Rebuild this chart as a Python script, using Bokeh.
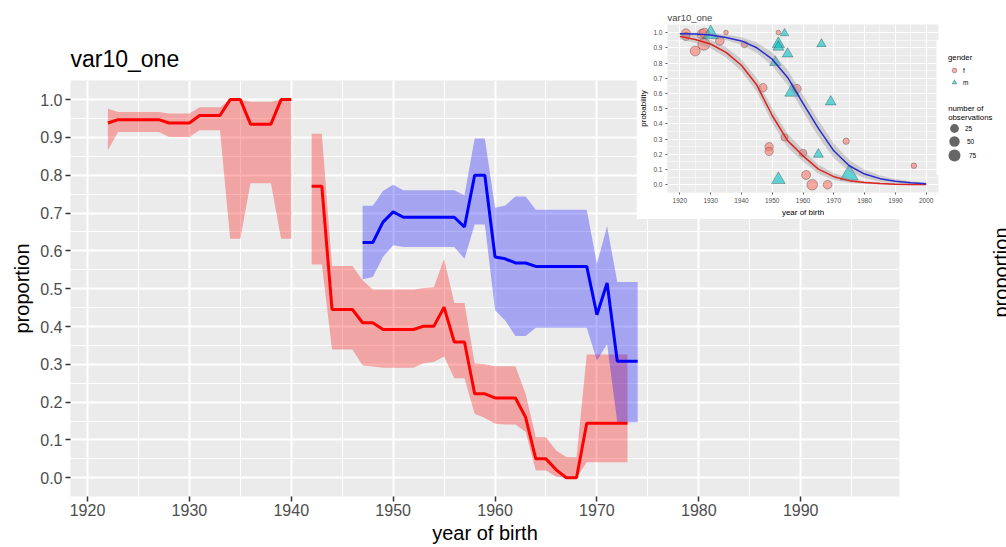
import numpy as np
from bokeh.plotting import figure
from bokeh.models import Range1d, FixedTicker, PrintfTickFormatter, Label, Legend, LegendItem
from bokeh.embed import file_html
from bokeh.resources import INLINE

FONT = "Liberation Sans"
NAN = float("nan")

# ---------------- main chart data ----------------
year_f = list(range(1922, 1974))
prop_f = [0.938, 0.947, 0.947, 0.947, 0.947, 0.947, 0.938, 0.938, 0.938, 0.958, 0.958, 0.958,
          1.000, 1.000, 0.935, 0.935, 0.935, 1.000, 1.000, NAN,
          0.771, 0.771, 0.445, 0.445, 0.445, 0.410, 0.410, 0.392, 0.392, 0.392, 0.392, 0.401,
          0.401, 0.451, 0.359, 0.359, 0.222, 0.222, 0.211, 0.211, 0.211, 0.160, 0.050, 0.050,
          0.021, 0.000, 0.000, 0.144, 0.144, 0.144, 0.144, 0.144]
upper_f = [0.976, 0.967, 0.967, 0.967, 0.967, 0.967, 0.963, 0.963, 0.963, 0.980, 0.980, 0.980,
           1.000, 1.000, 0.994, 0.994, 0.994, 1.000, 1.000, NAN,
           0.910, 0.910, 0.560, 0.560, 0.560, 0.522, 0.498, 0.498, 0.498, 0.498, 0.498, 0.502,
           0.504, 0.579, 0.462, 0.462, 0.303, 0.300, 0.295, 0.295, 0.295, 0.222, 0.107, 0.107,
           0.072, 0.055, 0.054, 0.326, 0.326, 0.326, 0.326, 0.326]
lower_f = [0.866, 0.914, 0.914, 0.914, 0.914, 0.914, 0.901, 0.901, 0.901, 0.919, 0.919, 0.919,
           0.632, 0.632, 0.779, 0.779, 0.779, 0.632, 0.632, NAN,
           0.564, 0.564, 0.339, 0.339, 0.339, 0.297, 0.294, 0.291, 0.291, 0.291, 0.291, 0.303,
           0.306, 0.321, 0.263, 0.263, 0.169, 0.158, 0.143, 0.141, 0.141, 0.121, 0.019, 0.019,
           0.003, 0.000, 0.000, 0.041, 0.041, 0.041, 0.041, 0.041]

year_m = list(range(1947, 1975))
prop_m = [0.622, 0.622, 0.676, 0.703, 0.689, 0.689, 0.689, 0.689, 0.689, 0.689, 0.663, 0.800,
          0.800, 0.584, 0.579, 0.568, 0.568, 0.559, 0.559, 0.559, 0.559, 0.559, 0.559, 0.431,
          0.515, 0.308, 0.308, 0.308]
upper_m = [0.719, 0.719, 0.758, 0.775, 0.760, 0.760, 0.760, 0.760, 0.760, 0.760, 0.747, 0.897,
           0.897, 0.714, 0.720, 0.744, 0.744, 0.709, 0.709, 0.709, 0.709, 0.709, 0.709, 0.566,
           0.665, 0.518, 0.518, 0.518]
lower_m = [0.525, 0.531, 0.584, 0.615, 0.610, 0.610, 0.610, 0.610, 0.610, 0.610, 0.579, 0.670,
           0.670, 0.443, 0.416, 0.375, 0.375, 0.397, 0.397, 0.397, 0.397, 0.397, 0.397, 0.310,
           0.353, 0.147, 0.147, 0.147]

x_major = [1920, 1930, 1940, 1950, 1960, 1970, 1980, 1990]
x_minor = [1915, 1925, 1935, 1945, 1955, 1965, 1975, 1985, 1995]
y_major = [0.0, 0.1, 0.2, 0.3, 0.4, 0.5, 0.6, 0.7, 0.8, 0.9, 1.0]
y_minor = [0.05, 0.15, 0.25, 0.35, 0.45, 0.55, 0.65, 0.75, 0.85, 0.95]

# ---------------- inset data ----------------
f_year = [1922, 1922, 1925, 1927.2, 1928, 1927.8, 1933, 1935, 1941, 1947, 1949, 1949, 1952,
          1954, 1958, 1960, 1961, 1963, 1968, 1974, 1996]
f_prob = [0.996, 0.974, 0.879, 0.989, 0.996, 0.923, 0.945, 1.0, 0.923, 0.638, 0.25, 0.219,
          1.0, 0.311, 0.631, 0.208, 0.064, 0.0, 0.0, 0.286, 0.125]
f_n = [34, 27, 48, 48, 48, 75, 34, 1, 15, 30, 30, 30, 1, 20, 34, 24, 37, 57, 34, 12, 7]

m_year = [1930, 1954, 1952, 1952, 1955, 1966, 1951, 1956.5, 1969, 1965, 1952, 1975]
m_prob = [0.99, 0.995, 0.925, 0.905, 0.86, 0.925, 0.805, 0.61, 0.545, 0.2, 0.033, 0.065]
m_n = [55, 7, 29, 20, 19, 11, 22, 48, 19, 15, 37, 76]

curve_year = [1920, 1925, 1930, 1935, 1940, 1945, 1950, 1955, 1960, 1965, 1970, 1975, 1980,
              1985, 1990, 1995, 2000]
fit_f = [0.975, 0.955, 0.925, 0.870, 0.785, 0.655, 0.455, 0.290, 0.190, 0.103, 0.053, 0.027,
         0.015, 0.008, 0.004, 0.002, 0.001]
fit_f_lo = [0.958, 0.932, 0.897, 0.836, 0.745, 0.610, 0.408, 0.245, 0.152, 0.073, 0.031, 0.012,
            0.005, 0.002, 0.000, 0.000, 0.000]
fit_f_hi = [0.992, 0.978, 0.953, 0.904, 0.825, 0.700, 0.502, 0.335, 0.228, 0.133, 0.075, 0.042,
            0.025, 0.015, 0.009, 0.006, 0.004]
fit_m = [0.993, 0.990, 0.984, 0.968, 0.945, 0.900, 0.825, 0.705, 0.535, 0.370, 0.223, 0.125,
         0.070, 0.040, 0.023, 0.013, 0.007]
fit_m_lo = [0.983, 0.978, 0.969, 0.949, 0.920, 0.866, 0.781, 0.655, 0.481, 0.316, 0.175, 0.087,
            0.042, 0.020, 0.009, 0.004, 0.001]
fit_m_hi = [1.000, 1.000, 0.998, 0.987, 0.970, 0.934, 0.869, 0.755, 0.589, 0.424, 0.271, 0.163,
            0.098, 0.060, 0.037, 0.023, 0.014]

inset_x_major = [1920, 1930, 1940, 1950, 1960, 1970, 1980, 1990, 2000]
inset_x_minor = [1925, 1935, 1945, 1955, 1965, 1975, 1985, 1995]
gender_labels = ["f", "m"]
size_keys = [25, 50, 75]


def diam(n):
    return np.sqrt(20 + 1.65 * np.asarray(n, dtype=float))


def runs(x, *cols):
    x = np.asarray(x, dtype=float)
    cols = [np.asarray(c, dtype=float) for c in cols]
    idx = np.flatnonzero(~np.isnan(cols[0]))
    breaks = np.flatnonzero(np.diff(idx) > 1) + 1
    for seg in np.split(idx, breaks):
        yield [x[seg]] + [c[seg] for c in cols]


def style_axes(fig, tick_size, label_size, tick_len, tick_w, std, lab_std):
    for ax in (fig.xaxis, fig.yaxis):
        ax.axis_line_color = None
        ax.major_tick_line_color = "#333333"
        ax.major_tick_line_width = tick_w
        ax.major_tick_out = tick_len
        ax.major_tick_in = 0
        ax.minor_tick_line_color = None
        ax.major_label_text_color = "#4D4D4D"
        ax.major_label_text_font = FONT
        ax.major_label_text_font_size = tick_size
        ax.major_label_standoff = std
        ax.axis_label_text_font = FONT
        ax.axis_label_text_font_size = label_size
        ax.axis_label_text_font_style = "normal"
        ax.axis_label_text_color = "black"
        ax.axis_label_standoff = lab_std


def blank(fig):
    fig.background_fill_color = "white"
    fig.border_fill_color = "white"
    fig.outline_line_color = None
    fig.grid.grid_line_color = None


# ---------------- main figure ----------------
p = figure(frame_width=829, frame_height=416, output_backend="svg", toolbar_location=None,
           x_range=Range1d(1918.33, 1999.7), y_range=Range1d(-0.0495, 1.0505),
           min_border_left=70, min_border_right=107, min_border_top=80, min_border_bottom=51,
           x_axis_label="year of birth", y_axis_label="proportion", title="var10_one")
p.styles = {"position": "absolute", "left": "0px", "top": "0px"}
p.background_fill_color = "#EBEBEB"
p.border_fill_color = "white"
p.outline_line_color = None
p.title.text_font = FONT
p.title.text_font_size = "23px"
p.title.text_font_style = "normal"
p.title.text_color = "black"
p.title.standoff = 17
p.xaxis.ticker = FixedTicker(ticks=x_major, minor_ticks=x_minor)
p.yaxis.ticker = FixedTicker(ticks=y_major, minor_ticks=y_minor)
p.yaxis.formatter = PrintfTickFormatter(format="%.1f")
style_axes(p, "16px", "20px", 5, 1.5, 3, 4)
p.xaxis.major_label_standoff = 2
p.xaxis.axis_label_standoff = 3
for g in (p.xgrid, p.ygrid):
    g.grid_line_color = "white"
    g.grid_line_width = 2
    g.minor_grid_line_color = "white"
    g.minor_grid_line_width = 1

for xs, lo, hi in runs(year_f, lower_f, upper_f):
    p.varea(x=xs, y1=lo, y2=hi, fill_color="red", fill_alpha=0.3)
for xs, lo, hi in runs(year_m, lower_m, upper_m):
    p.varea(x=xs, y1=lo, y2=hi, fill_color="blue", fill_alpha=0.3)
p.line(year_f, prop_f, line_color="red", line_width=3)
p.line(year_m, prop_m, line_color="blue", line_width=3)

# ---------------- y-axis title of the neighbouring, cut-off chart ----------------
pr = figure(frame_width=20, frame_height=100, output_backend="svg", toolbar_location=None,
            x_range=Range1d(0, 1), y_range=Range1d(0, 1), min_border=0,
            x_axis_location=None, y_axis_location=None)
pr.styles = {"position": "absolute", "left": "986px", "top": "222px"}
blank(pr)
pr.add_layout(Label(x=14, y=50, x_units="screen", y_units="screen", text="proportion",
                    angle=np.pi / 2, text_align="center", text_baseline="middle",
                    text_font=FONT, text_font_size="20px", text_color="black"))

# ---------------- inset figure ----------------
ins = figure(frame_width=271, frame_height=168, output_backend="svg", toolbar_location=None,
             x_range=Range1d(1916, 2004), y_range=Range1d(-0.051, 1.053),
             min_border_left=28, min_border_right=71, min_border_top=24, min_border_bottom=23,
             x_axis_label="year of birth", y_axis_label="probability", title="var10_one")
ins.styles = {"position": "absolute", "left": "636px", "top": "0px"}
ins.background_fill_color = "#EBEBEB"
ins.border_fill_color = "white"
ins.outline_line_color = None
ins.title.text_font = FONT
ins.title.text_font_size = "9.5px"
ins.title.text_font_style = "normal"
ins.title.standoff = 4
ins.xaxis.ticker = FixedTicker(ticks=inset_x_major, minor_ticks=inset_x_minor)
ins.yaxis.ticker = FixedTicker(ticks=y_major, minor_ticks=y_minor)
ins.yaxis.formatter = PrintfTickFormatter(format="%.1f")
style_axes(ins, "6.5px", "8px", 2, 0.8, 1, 2)
for g in (ins.xgrid, ins.ygrid):
    g.grid_line_color = "white"
    g.grid_line_width = 1
    g.minor_grid_line_color = "white"
    g.minor_grid_line_width = 0.5

F_STYLE = dict(marker="circle", fill_color="#F8766D", fill_alpha=0.6,
               line_color="black", line_alpha=0.45, line_width=0.6)
M_STYLE = dict(marker="triangle", fill_color="#00BFC4", fill_alpha=0.6,
               line_color="black", line_alpha=0.45, line_width=0.6)
ins.scatter(f_year, f_prob, size=diam(f_n), **F_STYLE)
ins.scatter(m_year, m_prob, size=1.5 * diam(m_n), **M_STYLE)
ins.varea(x=curve_year, y1=fit_f_lo, y2=fit_f_hi, fill_color="#999999", fill_alpha=0.4)
ins.varea(x=curve_year, y1=fit_m_lo, y2=fit_m_hi, fill_color="#999999", fill_alpha=0.4)
ins.line(curve_year, fit_f, line_color="#E0211D", line_width=1.5)
ins.line(curve_year, fit_m, line_color="#2A2ACF", line_width=1.5)

# ---------------- inset legend (own small canvas, right of the inset panel) ----------------
# its ranges do not contain the data, so the key renderers draw nothing but their legend keys
lg = figure(frame_width=70, frame_height=135, output_backend="svg", toolbar_location=None,
            x_range=Range1d(0, 1), y_range=Range1d(0, 1), min_border=0,
            x_axis_location=None, y_axis_location=None)
lg.styles = {"position": "absolute", "left": "936px", "top": "40px"}
blank(lg)

leg_common = dict(border_line_color=None, background_fill_alpha=0, padding=0, margin=0,
                  spacing=0, label_text_font=FONT, label_text_font_size="6.5px",
                  label_text_color="black", title_text_color="black",
                  title_text_font=FONT, title_text_font_size="7.8px",
                  title_text_font_style="normal", label_height=12)
k_f = lg.scatter(x=f_year[:1], y=f_year[:1], **F_STYLE)
k_m = lg.scatter(x=m_year[:1], y=m_year[:1], **M_STYLE)
lg.add_layout(Legend(items=[LegendItem(label=gender_labels[0], renderers=[k_f]),
                            LegendItem(label=gender_labels[1], renderers=[k_m])],
                     title="gender", title_standoff=2, glyph_height=12, glyph_width=12,
                     label_standoff=3, location=(12, 87), **leg_common))

box = [22, 26, 30]
bottoms = [35.7, 20.7, 4.7]
for k, b, vy in zip(size_keys, box, bottoms):
    rk = lg.scatter(x=[k], y=[k], marker="circle", fill_color="black", fill_alpha=0.6,
                    line_color=None)
    lg.add_layout(Legend(items=[LegendItem(label=str(k), renderers=[rk])],
                         glyph_height=b, glyph_width=b, label_standoff=int(round(10 - b / 2)),
                         location=(int(round(18 - b / 2)), vy), **leg_common))

for txt, yy in (("number of", 67), ("observations", 58.5)):
    lg.add_layout(Label(x=11.7, y=yy, x_units="screen", y_units="screen", text=txt,
                        text_baseline="middle", text_font=FONT, text_font_size="7.8px",
                        text_color="black"))

open("out.html", "w").write(file_html([p, ins, lg, pr], INLINE))
